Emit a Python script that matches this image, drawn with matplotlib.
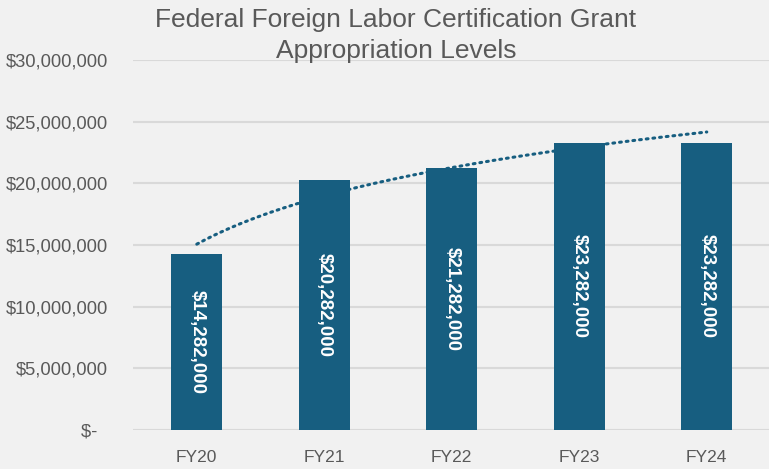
import matplotlib.pyplot as plt
import numpy as np
from matplotlib.ticker import FuncFormatter

years = ["FY20", "FY21", "FY22", "FY23", "FY24"]
appropriations = [14282000, 20282000, 21282000, 23282000, 23282000]

BAR_COLOR = "#175e80"
TEXT_COLOR = "#595959"
BG_COLOR = "#f1f1f1"

plt.rcParams["font.family"] = ["Liberation Sans", "DejaVu Sans"]


def money(v, _pos=None):
    if v == 0:
        return "$-  "
    return f"${v:,.0f}"


fig = plt.figure(figsize=(7.69, 4.69), dpi=100, facecolor=BG_COLOR)
ax = fig.add_axes([0.173, 0.083, 0.829, 0.789])
ax.set_facecolor(BG_COLOR)

x = np.arange(len(years))
ax.bar(x, appropriations, width=0.4, color=BAR_COLOR, zorder=3)

# logarithmic trendline like Excel's (y = a + b*ln(n))
n = x + 1
b, a = np.polyfit(np.log(n), appropriations, 1)
xs = np.linspace(1, len(years), 200)
ax.plot(xs - 1, a + b * np.log(xs), color=BAR_COLOR, lw=2.2,
        linestyle=(0, (0.6, 1.6)), dash_capstyle="round", zorder=2)

for xi, v in zip(x, appropriations):
    ax.text(xi, v / 2, money(v), rotation=270, ha="center", va="center",
            color="white", fontsize=13.5, fontweight="bold", zorder=4)

ax.set_xlim(-0.5, 4.5)
ax.set_ylim(0, 30000000)
ax.set_yticks(np.arange(0, 30000001, 5000000))
ax.yaxis.set_major_formatter(FuncFormatter(money))
ax.set_xticks(x)
ax.set_xticklabels(years)
ax.grid(axis="y", color="#d9d9d9", lw=1.5, zorder=0)
ax.tick_params(axis="both", length=0, colors=TEXT_COLOR, labelsize=12.5)
ax.tick_params(axis="y", labelsize=13.2, pad=18)
ax.tick_params(axis="x", pad=14)
for spine in ax.spines.values():
    spine.set_visible(False)

fig.text(0.515, 0.984, "Federal Foreign Labor Certification Grant\nAppropriation Levels",
         ha="center", va="top", fontsize=19, color=TEXT_COLOR,
         family=["Liberation Sans Narrow", "Liberation Sans", "DejaVu Sans"],
         linespacing=1.42)

fig.savefig("out.png", dpi=100, facecolor=BG_COLOR)
